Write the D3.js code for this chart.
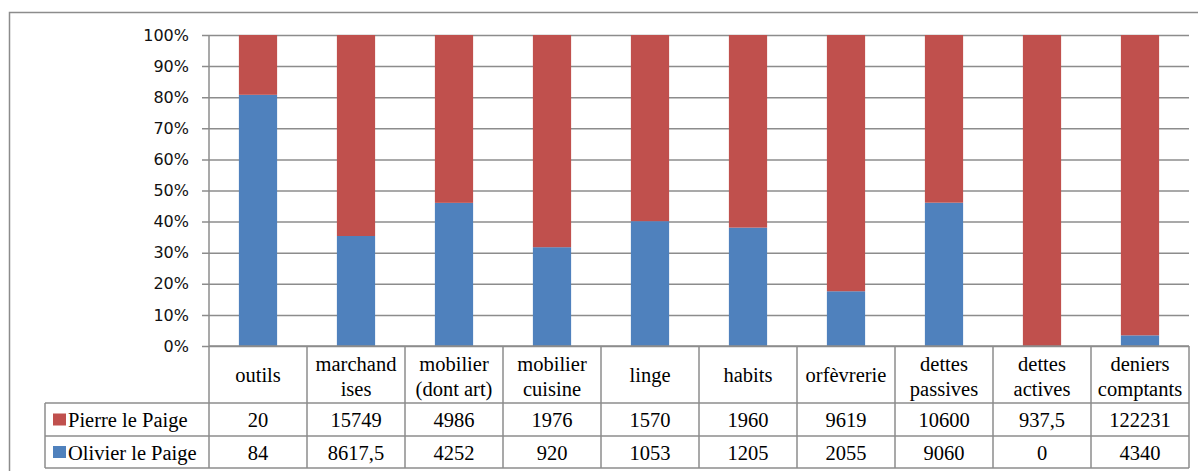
<!DOCTYPE html>
<html>
<head>
<meta charset="utf-8">
<script src="https://cdn.jsdelivr.net/npm/d3@7"></script>
<style>
  html, body { margin: 0; padding: 0; background: #fff; }
  svg { display: block; }
</style>
</head>
<body>
<svg id="chart" width="1198" height="471"></svg>
<script>
// Inventory categories (each entry split into its display lines)
const categories = ["outils", "marchandises", "mobilier (dont art)", "mobilier cuisine", "linge",
  "habits", "orfèvrerie", "dettes passives", "dettes actives", "deniers comptants"];
const categoryLines = [["outils"], ["marchand", "ises"], ["mobilier", "(dont art)"], ["mobilier", "cuisine"],
  ["linge"], ["habits"], ["orfèvrerie"], ["dettes", "passives"], ["dettes", "actives"], ["deniers", "comptants"]];

// Series values
const seriesNames = ["Pierre le Paige", "Olivier le Paige"];
const pierre = [20, 15749, 4986, 1976, 1570, 1960, 9619, 10600, 937.5, 122231];
const olivier = [84, 8617.5, 4252, 920, 1053, 1205, 2055, 9060, 0, 4340];
const seriesColors = ["#C0504D", "#4F81BD"];

// Axis ticks
const yTicks = [0, 0.1, 0.2, 0.3, 0.4, 0.5, 0.6, 0.7, 0.8, 0.9, 1];

const svg = d3.select("#chart");
const gridColor = "#8c8c8c";
const serifFont = "'Liberation Serif', 'Times New Roman', serif";
const sansFont = "'DejaVu Sans', Verdana, sans-serif";

const plotLeft = 209, plotRight = 1189, plotTop = 35, plotBottom = 346;
const tableTop = plotBottom, row1 = 403, row2 = 436, tableBottom = 468, headLeft = 45;

// Outer chart frame
svg.append("rect")
  .attr("x", 9.5).attr("y", 12.5).attr("width", 1300).attr("height", 600)
  .attr("fill", "none").attr("stroke", gridColor).attr("stroke-width", 1.5);

const x = d3.scaleBand().domain(categories).range([plotLeft, plotRight]);
const y = d3.scaleLinear().domain([0, 1]).range([plotBottom, plotTop]);

// Y axis with gridlines
const yAxis = svg.append("g")
  .attr("transform", `translate(${plotLeft},0)`)
  .call(d3.axisLeft(y).tickValues(yTicks).tickFormat(d3.format(".0%"))
    .tickSize(-(plotRight - plotLeft)).tickPadding(20));
yAxis.select(".domain").remove();
yAxis.selectAll(".tick line")
  .attr("x1", -7).attr("stroke", gridColor).attr("stroke-width", 1.5);
yAxis.selectAll(".tick text")
  .attr("font-family", sansFont)
  .attr("font-size", 16).attr("fill", "#111");
svg.append("line")
  .attr("x1", plotLeft).attr("x2", plotLeft).attr("y1", plotTop).attr("y2", tableBottom)
  .attr("stroke", gridColor).attr("stroke-width", 1.5);

// 100% stacked bars: Olivier at the bottom, Pierre on top
const stackData = categories.map((c, i) => ({ cat: c, olivier: olivier[i], pierre: pierre[i] }));
const stack = d3.stack().keys(["olivier", "pierre"]).offset(d3.stackOffsetExpand);
const layers = stack(stackData);
const barW = x.bandwidth() * 0.39;
const layerColor = { olivier: seriesColors[1], pierre: seriesColors[0] };

svg.append("g").selectAll("g").data(layers).join("g")
  .attr("fill", d => layerColor[d.key])
  .selectAll("rect").data(d => d).join("rect")
  .attr("x", d => x(d.data.cat) + (x.bandwidth() - barW) / 2)
  .attr("width", barW)
  .attr("y", d => y(d[1]))
  .attr("height", d => y(d[0]) - y(d[1]));

// Data table under the plot
const table = svg.append("g")
  .attr("stroke", gridColor).attr("stroke-width", 1.5).attr("fill", "none");
[row1, row2, tableBottom].forEach(yy => {
  table.append("line").attr("x1", headLeft).attr("x2", plotRight).attr("y1", yy).attr("y2", yy);
});
table.append("line").attr("x1", plotLeft).attr("x2", plotRight).attr("y1", tableTop).attr("y2", tableTop);
table.append("line").attr("x1", headLeft).attr("x2", headLeft).attr("y1", row1).attr("y2", tableBottom);
categories.forEach(c => {
  const xx = x(c) + x.bandwidth();
  table.append("line").attr("x1", xx).attr("x2", xx).attr("y1", tableTop).attr("y2", tableBottom);
});

const fs = 20.5;
const fmt = v => String(v).replace(".", ",");

// Category header cells
const headG = svg.append("g").attr("font-family", serifFont).attr("font-size", fs)
  .attr("fill", "#000").attr("text-anchor", "middle");
categories.forEach((c, i) => {
  const lines = categoryLines[i];
  const cx = x(c) + x.bandwidth() / 2;
  const t = headG.append("text").attr("x", cx);
  const base = lines.length === 1 ? 382 : 371;
  lines.forEach((ln, j) => {
    t.append("tspan").attr("x", cx).attr("y", base + j * 25).text(ln);
  });
});

// Series rows
const rows = [
  { name: seriesNames[0], values: pierre, color: seriesColors[0], top: row1, bottom: row2 },
  { name: seriesNames[1], values: olivier, color: seriesColors[1], top: row2, bottom: tableBottom }
];
const rowG = svg.append("g").attr("font-family", serifFont).attr("font-size", fs).attr("fill", "#000");
rows.forEach(r => {
  const cy = (r.top + r.bottom) / 2;
  rowG.append("rect").attr("x", 53).attr("y", cy - 6).attr("width", 13).attr("height", 12).attr("fill", r.color);
  rowG.append("text").attr("x", 68).attr("y", cy + 7.5).text(r.name);
  r.values.forEach((v, i) => {
    rowG.append("text")
      .attr("x", x(categories[i]) + x.bandwidth() / 2).attr("y", cy + 7.5)
      .attr("text-anchor", "middle").text(fmt(v));
  });
});
</script>
</body>
</html>
